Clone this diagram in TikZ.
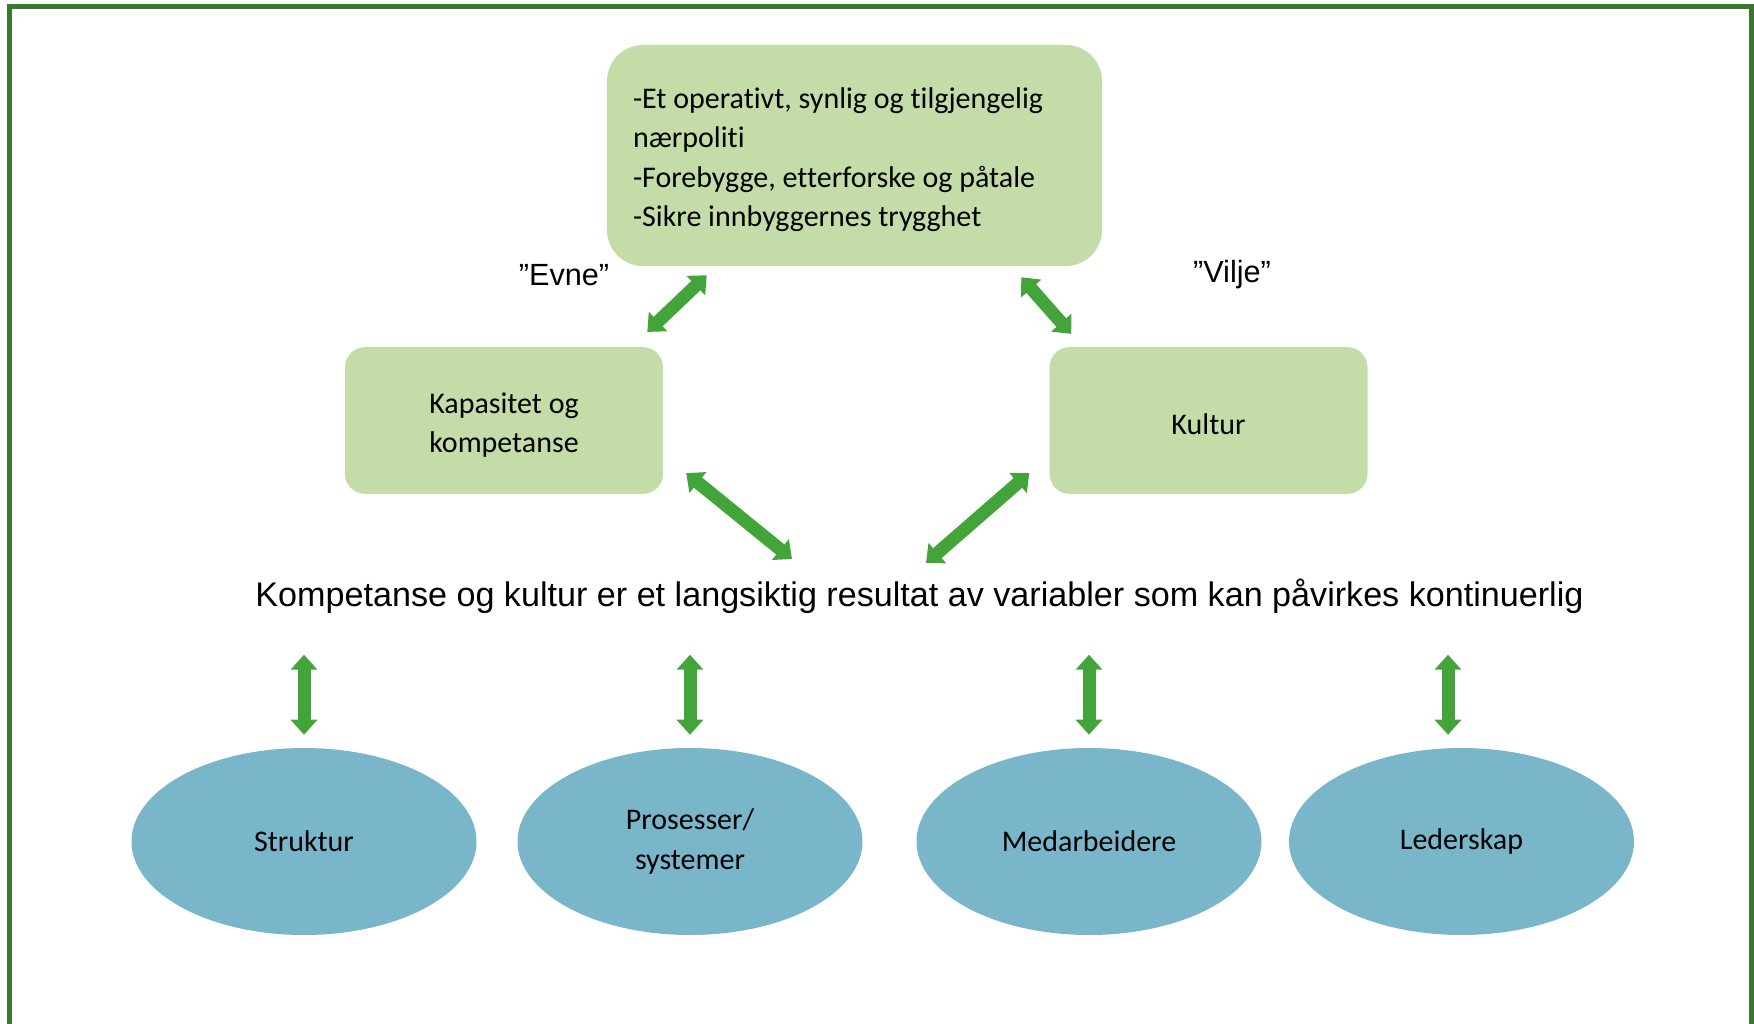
\documentclass[tikz,border=0pt]{standalone}
\usepackage{fontspec}
\setmainfont{Carlito}[Ligatures={NoCommon}]
\newfontfamily\arialf{Liberation Sans}
\usetikzlibrary{arrows.meta,shapes.geometric}
\definecolor{boxgreen}{RGB}{196,221,168}
\definecolor{ellblue}{RGB}{122,182,201}
\definecolor{arrgreen}{RGB}{67,164,57}
\definecolor{framegreen}{RGB}{56,122,45}
\begin{document}
\begin{tikzpicture}[x=0.75pt,y=-0.75pt,
  boxtext/.style={font=\fontsize{22.5}{29.5}\selectfont},
  topbox/.style={fill=boxgreen, draw=none, rounded corners=27pt, inner sep=0pt,
    minimum width=371.25pt, minimum height=165.75pt},
  smallbox/.style={fill=boxgreen, draw=none, rounded corners=15pt, inner sep=0pt,
    minimum width=238.5pt, minimum height=110pt},
  label/.style={align=center, inner sep=0pt, boxtext},
  oval/.style={ellipse, fill=ellblue, draw=none, inner sep=0pt,
    minimum width=258.75pt, minimum height=140.25pt, align=center, boxtext},
  quote/.style={font=\arialf\fontsize{23}{27}\selectfont},
  maintext/.style={font=\arialf\fontsize{25.6}{30}\selectfont},
  dbl/.style={draw=arrgreen, line width=9.75pt,
    {Triangle[length=11.25pt,width=19.5pt]}-{Triangle[length=11.25pt,width=19.5pt]}}
]
\useasboundingbox (0,0) rectangle (1754,1024);
\draw[draw=framegreen, line width=3.75pt, line join=miter] (9,1030) -- (9,7) -- (1751,7) -- (1751,1030);

\node[topbox] (top) at (854.5,155.5) {};
\node[boxtext, anchor=west, align=left, inner sep=0pt] (toptext) at ([shift={(26,4)}]top.west)
  {-Et operativt, synlig og tilgjengelig\\nærpoliti\\-Forebygge, etterforske og påtale\\-Sikre innbyggernes trygghet};

\node[smallbox] (kap) at (504,420.5) {};
\node[label] (kaptext) at ([yshift=-3.5]kap.center) {Kapasitet og\\kompetanse};
\node[smallbox] (kul) at (1208.5,420.5) {};
\node[label] (kultext) at ([yshift=-2.5]kul.center) {Kultur};

\node[quote] (evne) at (564,275) {”Evne”};
\node[quote] (vilje) at (1232,275) {”Vilje”};

\node[maintext, inner sep=0pt] (main) at (919.5,596) {Kompetanse og kultur er et langsiktig resultat av variabler som kan påvirkes kontinuerlig};

\node[oval] (e1) at (304,841.5) {Struktur};
\node[oval] (e2) at (690,841.5) {Prosesser/\\systemer};
\node[oval] (e3) at (1089,841.5) {Medarbeidere};
\node[oval] (e4) at (1461.5,841.5) {Lederskap};

\draw[dbl] ([shift={(100,9)}]top.south west) -- ([shift={(-16,-15)}]kap.north east);
\draw[dbl] ([shift={(-81,11)}]top.south east) -- ([shift={(22,-13)}]kul.north west);
\draw[dbl] ([shift={(23,-21)}]kap.south east) -- ([shift={(-127.5,-37)}]main.center);
\draw[dbl] ([shift={(-20,-21)}]kul.south west) -- ([shift={(6.5,-33)}]main.center);

\draw[dbl] ([shift={(0,-93)}]e1.north) -- ([shift={(0,-13)}]e1.north);
\draw[dbl] ([shift={(0,-93)}]e2.north) -- ([shift={(0,-13)}]e2.north);
\draw[dbl] ([shift={(0,-93)}]e3.north) -- ([shift={(0,-13)}]e3.north);
\draw[dbl] ([shift={(-13.5,-93)}]e4.north) -- ([shift={(-13.5,-13)}]e4.north);
\end{tikzpicture}
\end{document}
